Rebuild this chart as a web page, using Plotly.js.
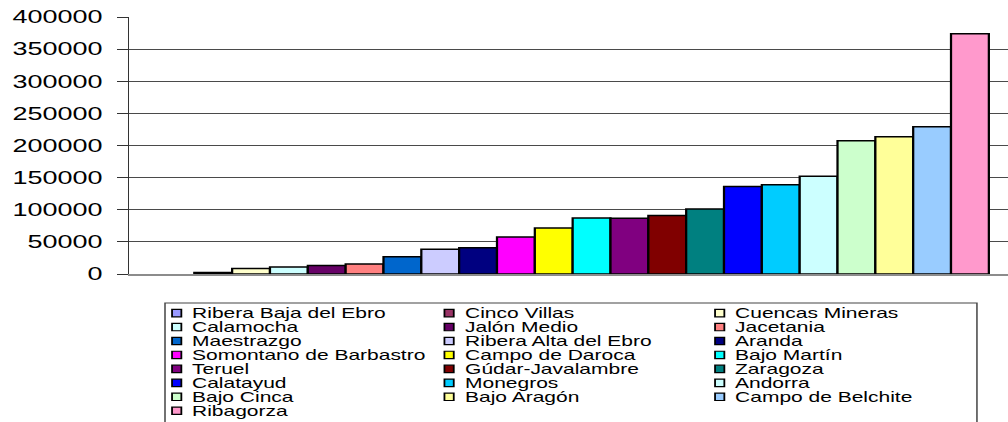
<!DOCTYPE html>
<html>
<head>
<meta charset="utf-8">
<script src="https://cdn.plot.ly/plotly-3.0.1.min.js"></script>
<style>
  html, body { margin: 0; padding: 0; background: #fff; overflow: hidden; width: 1008px; height: 422px; }
  #chart { width: 672px; height: 422px; transform: scaleX(1.5); transform-origin: 0 0; }
</style>
</head>
<body>
<div id="chart"></div>
<script>
// ---- data ----
const regions = [
  "Ribera Baja del Ebro", "Cinco Villas", "Cuencas Mineras", "Calamocha",
  "Jalón Medio", "Jacetania", "Maestrazgo", "Ribera Alta del Ebro",
  "Aranda", "Somontano de Barbastro", "Campo de Daroca", "Bajo Martín",
  "Teruel", "Gúdar-Javalambre", "Zaragoza", "Calatayud",
  "Monegros", "Andorra", "Bajo Cinca", "Bajo Aragón",
  "Campo de Belchite", "Ribagorza"
];
const values = [
  0, 2500, 8500, 10900,
  13400, 15600, 26900, 38600,
  40900, 57600, 71600, 87200,
  86600, 91200, 101300, 136200,
  138800, 152200, 207300, 213500,
  229100, 373900
];
const colors = [
  "#9999FF", "#993366", "#FFFFCC", "#CCFFFF",
  "#660066", "#FF8080", "#0066CC", "#CCCCFF",
  "#000080", "#FF00FF", "#FFFF00", "#00FFFF",
  "#800080", "#800000", "#008080", "#0000FF",
  "#00CCFF", "#CCFFFF", "#CCFFCC", "#FFFF99",
  "#99CCFF", "#FF99CC"
];
const yTicks = [0, 50000, 100000, 150000, 200000, 250000, 300000, 350000, 400000];

// ---- layout geometry (unscaled px; page is stretched 1.5x horizontally) ----
const W = 672, H = 422;
const M = { l: 86, r: 0, t: 17, b: 148 };
const plotW = W - M.l - M.r, plotH = H - M.t - M.b;
const px2x = px => (px - M.l) / plotW;
const py2y = py => (H - M.b - py) / plotH;

const traces = regions.map((name, i) => ({
  type: "bar",
  name: name,
  x: [0],
  y: [values[i]],
  marker: { color: colors[i], line: { color: "#000", width: values[i] > 0 ? 1.5 : 0 } },
  hoverinfo: "skip"
}));

// manual legend (3 columns, row-major)
const shapes = [];
const annotations = [];
const legLeft = 110, legRight = 651.3, legTop = 303, legBottom = 430;
shapes.push({
  type: "rect", xref: "paper", yref: "paper",
  x0: px2x(legLeft), x1: px2x(legRight), y0: py2y(legBottom), y1: py2y(legTop),
  line: { color: "#444", width: 1 }, fillcolor: "rgba(0,0,0,0)"
});
const colX = [114.7, 296.3, 476.7];
const row0 = 313, rowPitch = 13.95;
regions.forEach((name, i) => {
  const c = i % 3, r = Math.floor(i / 3);
  const cy = row0 + r * rowPitch;
  const sx = colX[c];
  shapes.push({
    type: "rect", xref: "paper", yref: "paper",
    x0: px2x(sx), x1: px2x(sx + 6.2), y0: py2y(cy + 3.8), y1: py2y(cy - 3.6),
    line: { color: "#000", width: 1.2 }, fillcolor: colors[i]
  });
  annotations.push({
    xref: "paper", yref: "paper", x: px2x(sx + 11.5), y: py2y(cy),
    xanchor: "left", yanchor: "middle", showarrow: false,
    text: name, font: { family: "Liberation Sans, Arial, sans-serif", size: 14, color: "#000" }
  });
});

const layout = {
  width: W, height: H,
  margin: M,
  paper_bgcolor: "#fff", plot_bgcolor: "#fff",
  showlegend: false,
  barmode: "group", bargap: 0, bargroupgap: 0,
  font: { family: "Liberation Sans, Arial, sans-serif", color: "#000" },
  xaxis: {
    type: "linear", range: [-0.533, 0.523],
    showticklabels: false, ticks: "", showgrid: false, zeroline: false,
    showline: true, linecolor: "#8c8c8c", linewidth: 2, fixedrange: true
  },
  yaxis: {
    range: [0, 400000], tickvals: yTicks, ticktext: yTicks.map(v => String(v)),
    showgrid: true, gridcolor: "#4a4a4a", gridwidth: 1,
    zeroline: false, showline: true, linecolor: "#333", linewidth: 1,
    ticks: "outside", ticklen: 7, tickwidth: 1, tickcolor: "#333",
    ticklabelstandoff: 6,
    tickfont: { family: "Liberation Sans, Arial, sans-serif", size: 18, color: "#000" },
    fixedrange: true
  },
  shapes: shapes,
  annotations: annotations
};

Plotly.newPlot("chart", traces, layout, { staticPlot: true, displayModeBar: false });
</script>
</body>
</html>
